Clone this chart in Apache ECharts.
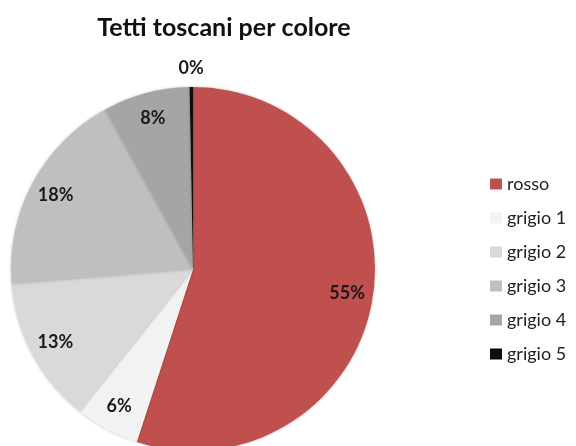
<!DOCTYPE html>
<html><head><meta charset="utf-8">
<script src="https://cdn.jsdelivr.net/npm/echarts@6/dist/echarts.min.js"></script>
<style>html,body{margin:0;padding:0;background:#fff}#c{width:576px;height:446px}</style>
</head><body><div id="c"></div>
<script>
const categories = ['rosso', 'grigio 1', 'grigio 2', 'grigio 3', 'grigio 4', 'grigio 5'];
const values = [55.0, 5.7, 13.0, 18.3, 7.7, 0.3];
const colors = ['#C0504D', '#F2F2F2', '#D9D9D9', '#BFBFBF', '#A5A5A5', '#0D0D0D'];

const chart = echarts.init(document.getElementById('c'), null, {renderer: 'canvas'});
const baseData = categories.map((n, i) => ({name: n, value: values[i], itemStyle: {color: colors[i]}}));
const fmt = p => Math.round(p.percent) + '%';
const labelStyle = {show: true, position: 'inside', formatter: fmt, fontFamily: 'Lato', fontWeight: 'bold', fontSize: 18, color: '#1a1a1a'};
const overlay = (radius, only) => ({
  type: 'pie', center: [193, 269], radius: radius, startAngle: 90, silent: true,
  legendHoverLink: false, avoidLabelOverlap: false, z: 5,
  itemStyle: {color: 'rgba(0,0,0,0)', borderWidth: 0},
  label: labelStyle, labelLine: {show: false}, emphasis: {disabled: true},
  data: categories.map((n, i) => ({name: n, value: values[i], itemStyle: {color: 'rgba(0,0,0,0)'}, label: {show: only(i)}}))
});
chart.setOption({
  animation: false,
  title: {text: 'Tetti toscani per colore', left: 219, top: 10, textAlign: 'center',
    textStyle: {fontFamily: 'Lato', fontWeight: 'bold', fontSize: 25, color: '#111'}},
  legend: {orient: 'vertical', left: 485, top: 170, itemWidth: 12, itemHeight: 11, itemGap: 16,
    icon: 'rect', data: categories,
    textStyle: {fontFamily: 'Lato', fontSize: 18, color: '#222'}},
  series: [
    {type: 'pie', center: [193, 269], radius: 182, startAngle: 90, avoidLabelOverlap: false,
     itemStyle: {borderWidth: 0, shadowBlur: 3, shadowColor: 'rgba(0,0,0,0.25)'},
     label: {show: false}, labelLine: {show: false}, emphasis: {disabled: true},
     data: baseData},
    overlay(306, i => i < 5),
    overlay(396, i => i === 5)
  ]
});
</script></body></html>
